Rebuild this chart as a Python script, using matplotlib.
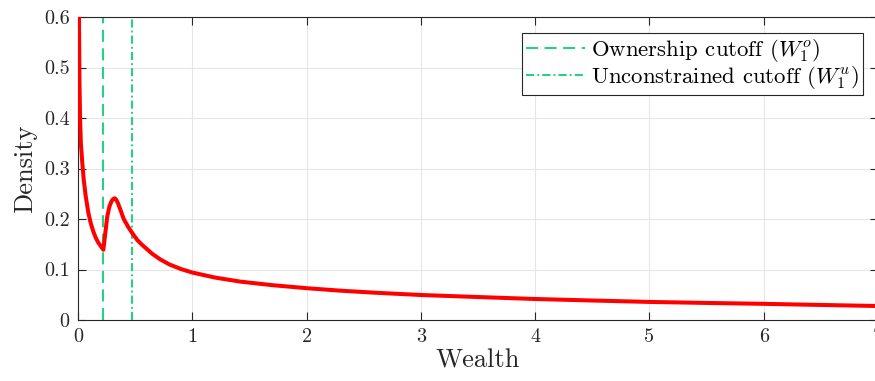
import matplotlib
matplotlib.use("Agg")
import matplotlib.pyplot as plt

plt.rcParams['font.family'] = ['cmr10', 'DejaVu Serif']
plt.rcParams['mathtext.fontset'] = 'cm'
plt.rcParams['axes.unicode_minus'] = False
plt.rcParams['axes.formatter.use_mathtext'] = True

# Density curve
wealth = [0.002, 0.005, 0.009, 0.013, 0.018, 0.025, 0.038, 0.05, 0.067, 0.09,
          0.11, 0.134, 0.155, 0.178, 0.2, 0.222, 0.24, 0.256, 0.275, 0.295,
          0.31, 0.322, 0.335, 0.35, 0.37, 0.4, 0.44, 0.475, 0.52, 0.56,
          0.6, 0.65, 0.72, 0.8, 0.9, 1.0, 1.2, 1.42, 1.7, 2.0,
          2.3, 2.6, 3.0, 3.5, 4.0, 4.5, 5.0, 5.5, 6.0, 6.5, 7.0]
density = [1.0, 0.75, 0.58, 0.47, 0.40, 0.35, 0.31, 0.278, 0.246, 0.213,
           0.193, 0.175, 0.163, 0.153, 0.146, 0.139, 0.174, 0.205, 0.225, 0.236,
           0.240, 0.241, 0.238, 0.231, 0.219, 0.200, 0.184, 0.172, 0.158, 0.149,
           0.141, 0.131, 0.120, 0.110, 0.101, 0.094, 0.084, 0.076, 0.069, 0.063,
           0.058, 0.054, 0.0495, 0.0455, 0.0416, 0.0386, 0.0358, 0.0338, 0.032, 0.0298, 0.0277]

ownership_cutoff = 0.222
unconstrained_cutoff = 0.476

xticks = [0, 1, 2, 3, 4, 5, 6, 7]
yticks = [0, 0.1, 0.2, 0.3, 0.4, 0.5, 0.6]
xticklabels = ['0', '1', '2', '3', '4', '5', '6', '7']
yticklabels = ['0', '0.1', '0.2', '0.3', '0.4', '0.5', '0.6']

W, H = 875, 381
fig = plt.figure(figsize=(W / 100, H / 100), dpi=100)
ax = fig.add_axes([78 / W, 61 / H, 800 / W, 303 / H])

green = (0.15, 0.82, 0.52)
axcol = (0.15, 0.15, 0.15)

ax.plot(wealth, density, color='red', lw=2.9, zorder=3, solid_joinstyle='round')
ax.axvline(ownership_cutoff, color=green, lw=1.5, linestyle=(0, (5.8, 3.1)),
           label='Ownership cutoff ($W_1^o$)', zorder=2)
ax.axvline(unconstrained_cutoff, color=green, lw=1.5,
           linestyle=(0, (3.9, 1.5, 0.9, 1.5)),
           label='Unconstrained cutoff ($W_1^u$)', zorder=2)

ax.set_xlim(0, 7)
ax.set_ylim(0, 0.6)
ax.set_xticks(xticks)
ax.set_xticklabels(xticklabels)
ax.set_yticks(yticks)
ax.set_yticklabels(yticklabels)
ax.grid(True, color=(0.9, 0.9, 0.9), lw=0.8, zorder=0)
ax.set_axisbelow(True)

for s in ax.spines.values():
    s.set_color(axcol)
    s.set_linewidth(0.8)
ax.tick_params(direction='in', length=5.5, width=0.8, color=axcol,
               labelcolor=axcol, labelsize=14.5, top=True, right=True, pad=6)

ax.set_xlabel('Wealth', fontsize=19, color=axcol, labelpad=2)
ax.set_ylabel('Density', fontsize=19, color=axcol, labelpad=5)

leg = ax.legend(loc='upper right', bbox_to_anchor=(863 / W, (H - 33) / H),
                bbox_transform=fig.transFigure, borderaxespad=0,
                fontsize=16.4, frameon=True, fancybox=False, framealpha=1,
                edgecolor=axcol, borderpad=0.18, handlelength=2.6,
                handletextpad=0.27, labelspacing=0.0)
leg.get_frame().set_linewidth(0.8)
for t in leg.get_texts():
    t.set_color('black')

fig.savefig('out.png', dpi=100)
